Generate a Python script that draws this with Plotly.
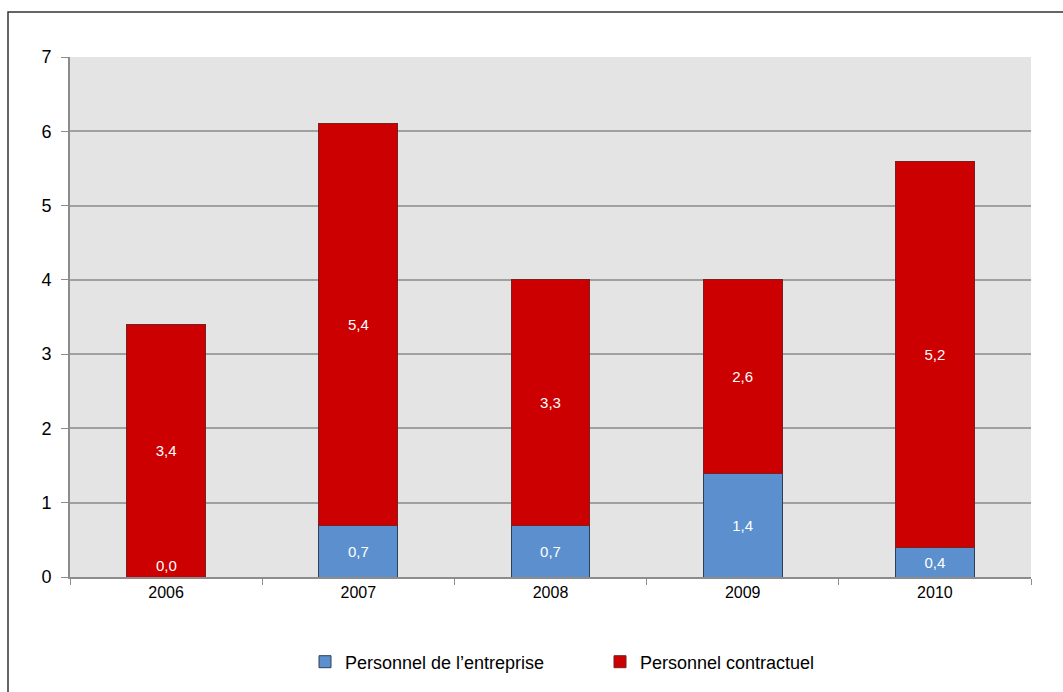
import plotly.graph_objects as go

years = ["2006", "2007", "2008", "2009", "2010"]
entreprise = [0.0, 0.7, 0.7, 1.4, 0.4]
contractuel = [3.4, 5.4, 3.3, 2.6, 5.2]
name_ent = "Personnel de l\u2019entreprise"
name_con = "Personnel contractuel"

FONT = "Liberation Sans Narrow, Arial Narrow, Liberation Sans, Arial, sans-serif"

fig = go.Figure()
fig.add_trace(go.Bar(
    x=years, y=entreprise, name=name_ent,
    marker=dict(color="#5b8fcd", line=dict(color="#2f3f55", width=1)),
    texttemplate="%{y:.1f}", textposition="inside", insidetextanchor="middle",
    textfont=dict(color="white", size=15, family=FONT),
    width=0.41,
))
fig.add_trace(go.Bar(
    x=years, y=contractuel, name=name_con,
    marker=dict(color="#cc0000", line=dict(color="#7a2020", width=1)),
    texttemplate="%{y:.1f}", textposition="inside", insidetextanchor="middle",
    textfont=dict(color="white", size=15, family=FONT),
    width=0.41,
))

# label zero-height segments (plotly hides inside text for zero bars)
for i, v in enumerate(entreprise):
    if v == 0:
        fig.add_annotation(x=i, y=0, yanchor="bottom", text=f"{v:.1f}".replace(".", ","),
                           showarrow=False, yshift=1,
                           font=dict(color="white", size=15, family=FONT))

W, H = 1063, 692
L, R, T, B = 70, 32, 57, 115
pw, ph = W - L - R, H - T - B
def px(x): return (x - L) / pw
def py(y): return (H - B - y) / ph

fig.add_shape(type="rect", xref="paper", yref="paper",
              x0=px(8), x1=px(1075), y0=py(700), y1=py(12),
              line=dict(color="#333333", width=1.5), fillcolor="rgba(0,0,0,0)", layer="below")

fig.update_layout(
    width=W, height=H,
    margin=dict(l=L, r=R, t=T, b=B),
    barmode="stack",
    separators=", ",
    paper_bgcolor="white",
    plot_bgcolor="#e4e4e4",
    font=dict(family=FONT, size=16, color="black"),
    showlegend=True,
    legend=dict(orientation="h", x=px(305), xanchor="left", y=py(662), yanchor="middle",
                font=dict(size=18, family=FONT), traceorder="normal",
                itemwidth=30, entrywidth=250),
    xaxis=dict(type="category", range=[-0.5, len(years) - 0.5], showline=True,
               linecolor="#8c8c8c", linewidth=2, ticks="outside",
               tickson="boundaries", ticklen=6, tickcolor="#8c8c8c",
               showgrid=False, tickfont=dict(size=16), tickangle=0),
    yaxis=dict(range=[0, 7], dtick=1, showline=True, linecolor="#8c8c8c", linewidth=2,
               ticks="outside", ticklen=7, tickcolor="#8c8c8c",
               gridcolor="#a0a0a0", gridwidth=1.5, zeroline=False,
               tickfont=dict(size=18), ticklabelstandoff=6),
)
fig.write_html("out.html")
